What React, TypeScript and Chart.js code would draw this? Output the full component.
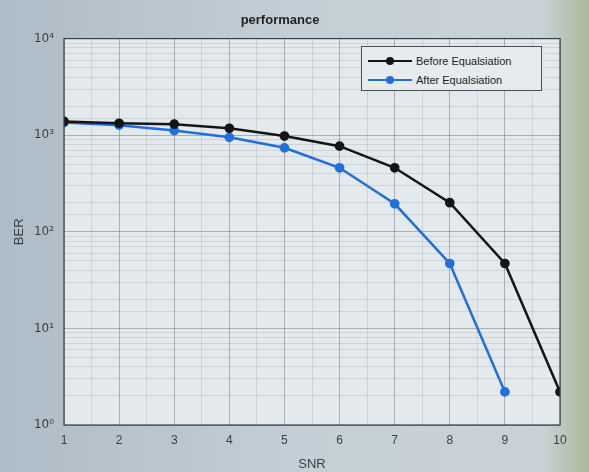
import React, { useEffect, useRef } from "react";
import { Chart, registerables } from "chart.js";

Chart.register(...registerables);

const snr = [1, 2, 3, 4, 5, 6, 7, 8, 9, 10];
const berBefore = [1390, 1330, 1300, 1180, 980, 770, 460, 200, 47, 2.2];
const berAfter = [1350, 1270, 1120, 950, 740, 460, 195, 47, 2.2];
const seriesNames = ["Before Equalsiation", "After Equalsiation"];
const seriesColors = ["#151515", "#1f6fdc"];
const titleText = "performance";
const xTitle = "SNR";
const yTitle = "BER";
const sup = ["⁰", "¹", "²", "³", "⁴"];

const framePlugin = {
  id: "frame",
  beforeDraw(chart: any) {
    const { ctx, chartArea } = chart;
    ctx.save();
    ctx.fillStyle = "#e3e9ec";
    ctx.fillRect(chartArea.left, chartArea.top, chartArea.right - chartArea.left, chartArea.bottom - chartArea.top);
    ctx.restore();
  },
  afterDatasetsDraw(chart: any) {
    const { ctx, chartArea } = chart;
    ctx.save();
    ctx.strokeStyle = "#3a3f44";
    ctx.lineWidth = 1.2;
    ctx.strokeRect(chartArea.left, chartArea.top, chartArea.right - chartArea.left, chartArea.bottom - chartArea.top);
    ctx.restore();
  },
};

export default function App() {
  const ref = useRef<HTMLCanvasElement>(null);
  useEffect(() => {
    const isMajor = (v: number) => Math.abs(Math.log10(v) - Math.round(Math.log10(v))) < 1e-9;
    const chart = new Chart(ref.current!, {
      type: "line",
      data: {
        datasets: [
          {
            label: seriesNames[0],
            data: snr.map((x, i) => ({ x, y: berBefore[i] })),
            borderColor: seriesColors[0],
            backgroundColor: seriesColors[0],
            borderWidth: 2.5,
            pointRadius: 3.6,
            pointBackgroundColor: seriesColors[0],
          },
          {
            label: seriesNames[1],
            data: berAfter.map((y, i) => ({ x: snr[i], y })),
            borderColor: seriesColors[1],
            backgroundColor: seriesColors[1],
            borderWidth: 2.5,
            pointRadius: 3.6,
            pointBackgroundColor: seriesColors[1],
          },
        ],
      },
      options: {
        animation: false,
        responsive: false,
        layout: { padding: { right: 29, left: 0, top: 0, bottom: 0 } },
        plugins: {
          legend: { display: false },
          tooltip: { enabled: false },
          title: {
            display: true,
            text: titleText,
            color: "#222",
            font: { family: "Liberation Sans, Arial", size: 13, weight: "bold" },
            padding: { top: 13, bottom: 10 },
          },
        },
        scales: {
          x: {
            type: "linear",
            min: 1,
            max: 10,
            afterFit: (s: any) => { s.height = 47; },
            ticks: {
              stepSize: 0.5,
              autoSkip: false,
              maxRotation: 0,
              padding: 4,
              color: "#3a3f44",
              font: { family: "Liberation Sans, Arial", size: 12 },
              callback: (v: any) => (Number.isInteger(v) ? String(v) : ""),
            },
            grid: {
              color: (c: any) => (Number.isInteger(c.tick?.value) ? "rgba(60,70,80,0.35)" : "rgba(60,70,80,0.12)"),
              tickLength: 4,
              tickColor: "rgba(0,0,0,0)",
            },
            border: { display: false },
            title: {
              display: true,
              text: xTitle,
              color: "#3a3f44",
              font: { family: "Liberation Sans, Arial", size: 13 },
              padding: { top: 0, bottom: 0 },
            },
          },
          y: {
            type: "logarithmic",
            min: 1,
            max: 10000,
            afterFit: (s: any) => { s.width = 64; },
            ticks: {
              autoSkip: false,
              padding: 6,
              color: "#3a3f44",
              font: { family: "DejaVu Sans, Liberation Sans", size: 12 },
              callback: (v: any) => {
                const n = Number(v);
                if (!isMajor(n)) return "";
                return "10" + sup[Math.round(Math.log10(n))];
              },
            },
            grid: {
              color: (c: any) => (c.tick && isMajor(c.tick.value) ? "rgba(60,70,80,0.35)" : "rgba(60,70,80,0.12)"),
              tickLength: 4,
              tickColor: "rgba(0,0,0,0)",
            },
            border: { display: false },
            title: {
              display: true,
              text: yTitle,
              color: "#3a3f44",
              font: { family: "Liberation Sans, Arial", size: 13 },
              padding: { top: 12, bottom: 4 },
            },
          },
        },
      },
      plugins: [framePlugin],
    } as any);
    return () => chart.destroy();
  }, []);

  return (
    <div style={{ position: "fixed", left: 0, top: 0, width: 589, height: 472, background: "linear-gradient(90deg, #aebcc7 0%, #c3ced6 50%, #c9d2d6 92%, #a9b89a 100%)", overflow: "hidden" }}>
      <canvas ref={ref} width={589} height={472} style={{ display: "block" }} />
      <div style={{ position: "absolute", left: 361, top: 46, width: 181, height: 45, boxSizing: "border-box", border: "1px solid #4a4f55", background: "#e6ecee", fontFamily: "Liberation Sans, Arial", fontSize: 11, color: "#222" }}>
        {seriesNames.map((name, i) => (
          <div key={name} style={{ display: "flex", alignItems: "center", height: 19, marginTop: i === 0 ? 4 : 0 }}>
            <div style={{ position: "relative", width: 44, height: 10, marginLeft: 6, marginRight: 4 }}>
              <div style={{ position: "absolute", left: 0, right: 0, top: 4, height: 2.5, background: seriesColors[i] }} />
              <div style={{ position: "absolute", left: 18, top: 1, width: 8, height: 8, borderRadius: 4, background: seriesColors[i] }} />
            </div>
            <span>{name}</span>
          </div>
        ))}
      </div>
    </div>
  );
}
